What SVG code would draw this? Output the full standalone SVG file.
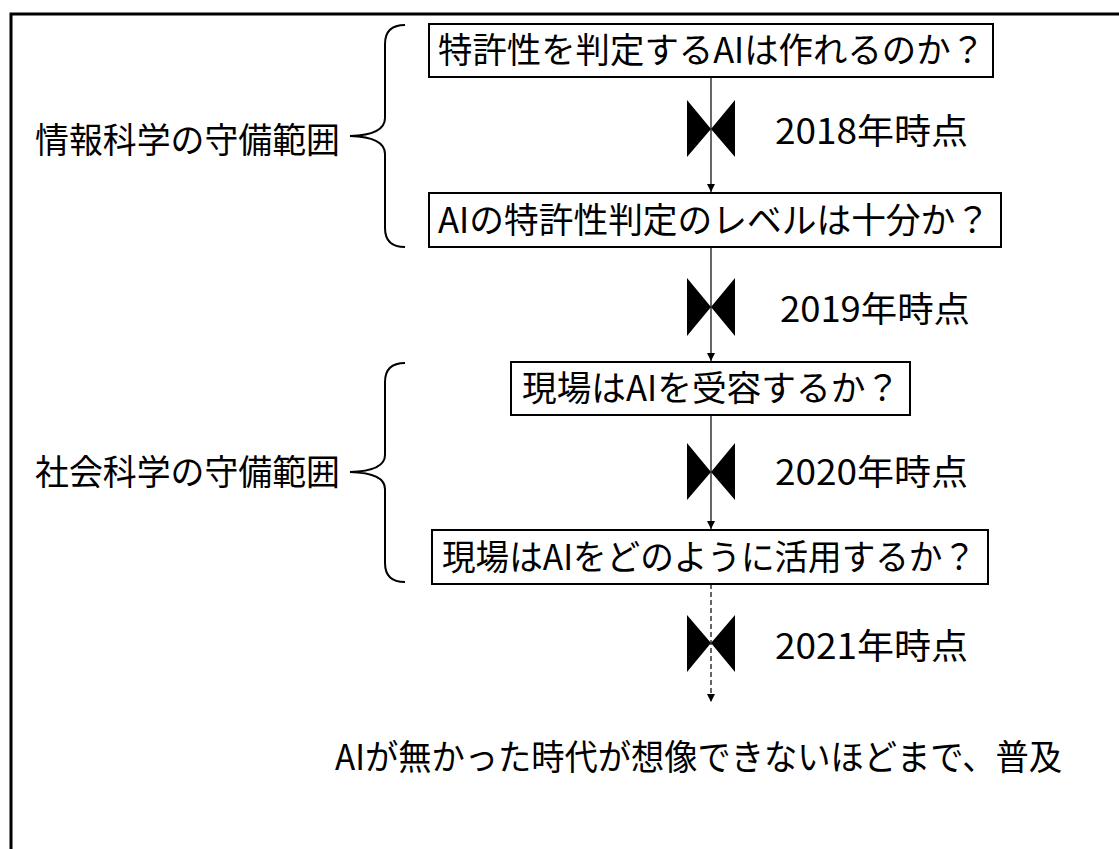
<svg xmlns="http://www.w3.org/2000/svg" width="1119" height="849" viewBox="0 0 1119 849">
<style>
.box{fill:#fff;stroke:#000;stroke-width:2}
.t{font-family:"Noto Sans CJK JP","Noto Sans",sans-serif;font-size:35px;fill:#000}
.conn{stroke:#000;stroke-width:1.2;fill:none}
.brace{stroke:#000;stroke-width:2;fill:none}
.bow{fill:#000}
</style>
<defs>
<marker id="ah" viewBox="0 0 10 10" refX="10" refY="5" markerWidth="8" markerHeight="8" markerUnits="userSpaceOnUse" orient="auto">
<path d="M0,0 L10,5 L0,10 Z" fill="#000"/>
</marker>
</defs>
<rect width="1119" height="849" fill="#fff"/>
<path d="M11 849 L11 14 L1119 14" fill="none" stroke="#000" stroke-width="3"/>

<g id="connectors">
<line class="conn" x1="711" y1="77" x2="711" y2="192" marker-end="url(#ah)"/>
<line class="conn" x1="711" y1="247" x2="711" y2="361" marker-end="url(#ah)"/>
<line class="conn" x1="711" y1="415" x2="711" y2="529" marker-end="url(#ah)"/>
<line class="conn" x1="711" y1="584" x2="711" y2="702" stroke-dasharray="5,3" marker-end="url(#ah)"/>
</g>

<g id="bowties">
<path class="bow" d="M687 100 L711 129 L687 157 Z M735 100 L711 129 L735 157 Z"/>
<path class="bow" d="M687 278 L711 307 L687 336 Z M735 278 L711 307 L735 336 Z"/>
<path class="bow" d="M687 443 L711 472 L687 500 Z M735 443 L711 472 L735 500 Z"/>
<path class="bow" d="M687 615 L711 643 L687 672 Z M735 615 L711 643 L735 672 Z"/>
</g>

<g id="node1">
<rect class="box" x="429" y="24" width="564" height="53"/>
<text class="t" x="438" y="63" textLength="547" lengthAdjust="spacingAndGlyphs">特許性を判定するAIは作れるのか？</text>
</g>
<g id="node2">
<rect class="box" x="429" y="193" width="572" height="54"/>
<text class="t" x="438" y="233" textLength="552" lengthAdjust="spacingAndGlyphs">AIの特許性判定のレベルは十分か？</text>
</g>
<g id="node3">
<rect class="box" x="511" y="362" width="399" height="53"/>
<text class="t" x="522" y="401" textLength="378" lengthAdjust="spacingAndGlyphs">現場はAIを受容するか？</text>
</g>
<g id="node4">
<rect class="box" x="432" y="530" width="556" height="54"/>
<text class="t" x="442" y="570" textLength="534" lengthAdjust="spacingAndGlyphs">現場はAIをどのように活用するか？</text>
</g>

<g id="label2018"><text class="t" x="775" y="144" textLength="193" lengthAdjust="spacingAndGlyphs">2018年時点</text></g>
<g id="label2019"><text class="t" x="780" y="322" textLength="190" lengthAdjust="spacingAndGlyphs">2019年時点</text></g>
<g id="label2020"><text class="t" x="775" y="485" textLength="193" lengthAdjust="spacingAndGlyphs">2020年時点</text></g>
<g id="label2021"><text class="t" x="775" y="659" textLength="193" lengthAdjust="spacingAndGlyphs">2021年時点</text></g>

<g id="final"><text class="t" x="335" y="770" textLength="727" lengthAdjust="spacingAndGlyphs">AIが無かった時代が想像できないほどまで、普及</text></g>

<g id="group-info">
<path class="brace" d="M405 25 Q385 25 385 44 L385 118 Q385 135 350 136 Q385 137 385 154 L385 228 Q385 247 405 247"/>
<text class="t" x="35" y="153" textLength="305" lengthAdjust="spacingAndGlyphs">情報科学の守備範囲</text>
</g>
<g id="group-social">
<path class="brace" d="M405 363 Q385 363 385 382 L385 455 Q385 471 350 472 Q385 473 385 489 L385 563 Q385 582 405 582"/>
<text class="t" x="35" y="485" textLength="305" lengthAdjust="spacingAndGlyphs">社会科学の守備範囲</text>
</g>
</svg>
